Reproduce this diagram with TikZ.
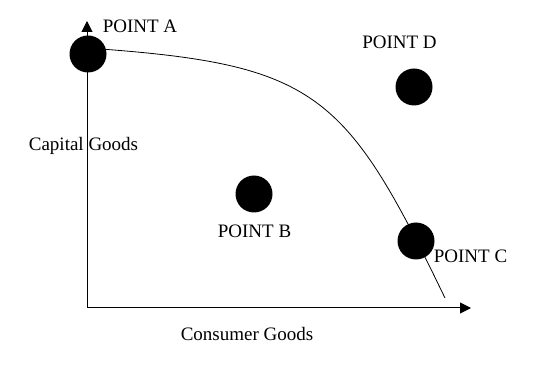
\documentclass[tikz,border=0pt]{standalone}
\usepackage{fontspec}
\setmainfont{Liberation Serif}
\usetikzlibrary{arrows.meta}
\begin{document}
\begin{tikzpicture}[x=1pt,y=-1pt,
  dot/.style={circle,fill=black,inner sep=0pt,minimum size=37pt},
  lbl/.style={font=\fontsize{19}{22}\selectfont,anchor=base,inner sep=0pt},
  axis/.style={line width=1pt,-{Triangle[length=11pt,width=11pt]}},
  ppf/.style={line width=0.8pt}]
\useasboundingbox (0,0) rectangle (544,382);
\coordinate (O) at (87,308);
\coordinate (Ytop) at (87,21);
\coordinate (Xend) at (471,308);
\coordinate (Pstart) at (87,48);
\coordinate (Pend) at (445,298);
\draw[axis] (O) -- (Ytop);
\draw[axis] (O) -- (Xend);
\draw[ppf] (Pstart) .. controls (317,64) and (345,91) .. (Pend);
\node[dot] (A) at (88,54) {};
\node[dot] (B) at (254,194) {};
\node[dot] (C) at (416,241) {};
\node[dot] (D) at (414,87) {};
\node[lbl] (la) at (140,33) {POINT A};
\node[lbl] (ld) at (399.5,49) {POINT D};
\node[lbl] (lb) at (254.5,238) {POINT B};
\node[lbl] (lc) at (470.5,263) {POINT C};
\node[lbl] (lcap) at (83.5,151) {Capital Goods};
\node[lbl] (lcon) at (247,341) {Consumer Goods};
\end{tikzpicture}
\end{document}
